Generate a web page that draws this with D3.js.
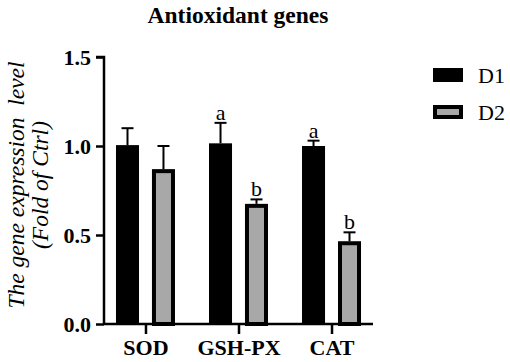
<!DOCTYPE html>
<html>
<head>
<meta charset="utf-8">
<script src="https://cdn.jsdelivr.net/npm/d3@7"></script>
<style>
  body { margin: 0; background: #fff; }
  svg { display: block; }
  svg text { font-family: "Liberation Serif", "Times New Roman", Times, serif !important; fill: #000; }
</style>
</head>
<body>
<div id="chart"></div>
<script>
// 数据
const genes = ['SOD', 'GSH-PX', 'CAT'];
const groups = ['D1', 'D2'];
const d1Mean = [1.005, 1.015, 1.0];
const d1Err = [0.095, 0.115, 0.03];
const d2Mean = [0.87, 0.675, 0.465];
const d2Err = [0.13, 0.025, 0.05];
const d1Sig = ['', 'a', 'a'];
const d2Sig = ['', 'b', 'b'];
const yTicks = [0, 0.5, 1.0, 1.5];

const w = 510, h = 362;
const x0 = 104, x1 = 373, yBase = 324, yTop = 57;
const FONT = '"Liberation Serif", "Times New Roman", Times, serif';

const svg = d3.select('#chart').append('svg').attr('width', w).attr('height', h);

const x = d3.scalePoint().domain(genes).range([x0, x1]).padding(0.446);
const xs = d3.scaleBand().domain(groups).range([-29.5, 29.5]).paddingInner(0.36);
const y = d3.scaleLinear().domain([0, 1.5]).range([yBase, yTop]);

const rows = genes.flatMap((g, i) => [
  { gene: g, grp: 'D1', v: d1Mean[i], e: d1Err[i], sig: d1Sig[i] },
  { gene: g, grp: 'D2', v: d2Mean[i], e: d2Err[i], sig: d2Sig[i] },
]);

// 误差线
const eg = svg.append('g').attr('stroke', '#000').attr('stroke-width', 2);
rows.forEach((d) => {
  const cx = x(d.gene) + xs(d.grp) + xs.bandwidth() / 2;
  eg.append('line').attr('x1', cx).attr('x2', cx).attr('y1', y(d.v)).attr('y2', y(d.v + d.e));
  eg.append('line').attr('x1', cx - 6).attr('x2', cx + 6).attr('y1', y(d.v + d.e)).attr('y2', y(d.v + d.e));
});

// 柱子
svg.append('g')
  .selectAll('rect')
  .data(rows)
  .enter()
  .append('rect')
  .attr('x', (d) => x(d.gene) + xs(d.grp) + (d.grp === 'D2' ? 2 : 0))
  .attr('width', (d) => xs.bandwidth() - (d.grp === 'D2' ? 4 : 0))
  .attr('y', (d) => y(d.v) + (d.grp === 'D2' ? 2 : 0))
  .attr('height', (d) => yBase - y(d.v) - (d.grp === 'D2' ? 2 : 0))
  .attr('fill', (d) => (d.grp === 'D1' ? '#000' : '#a8a8a8'))
  .attr('stroke', (d) => (d.grp === 'D2' ? '#000' : 'none'))
  .attr('stroke-width', 4);

// 显著性字母
svg.append('g')
  .selectAll('text')
  .data(rows.filter((d) => d.sig))
  .enter()
  .append('text')
  .attr('x', (d) => x(d.gene) + xs(d.grp) + xs.bandwidth() / 2)
  .attr('y', (d) => y(d.v + d.e) - 3)
  .attr('text-anchor', 'middle')
  .style('font-size', '22px')
  .text((d) => d.sig);

// 坐标轴
const yAxis = svg.append('g')
  .attr('transform', `translate(${x0},0)`)
  .call(d3.axisLeft(y).tickValues(yTicks).tickFormat(d3.format('.1f')).tickSize(8).tickPadding(5));
yAxis.attr('font-family', FONT);
yAxis.select('.domain').attr('d', `M-8,${yTop}H0V${yBase}`);
yAxis.selectAll('path, line').attr('stroke', '#000').attr('stroke-width', 2.5);
yAxis.selectAll('text').style('font-size', '22px').style('font-weight', 'bold').attr('dy', '0.34em');

const xAxis = svg.append('g')
  .attr('transform', `translate(0,${yBase})`)
  .call(d3.axisBottom(x).tickSize(10).tickPadding(5));
xAxis.attr('font-family', FONT);
xAxis.select('.domain').attr('d', `M${x0},0H${x1}`);
xAxis.selectAll('path, line').attr('stroke', '#000').attr('stroke-width', 2.5);
xAxis.selectAll('text').style('font-size', '22px').style('font-weight', 'bold');

// 标题
svg.append('text')
  .attr('x', 238).attr('y', 23)
  .attr('text-anchor', 'middle')
  .style('font-size', '23.5px').style('font-weight', 'bold')
  .text('Antioxidant genes');

// Y轴标题
const yl = svg.append('text')
  .attr('transform', 'translate(0,185) rotate(-90)')
  .attr('text-anchor', 'middle')
  .style('font-size', '23.5px').style('font-style', 'italic');
yl.append('tspan').attr('x', 0).attr('y', 24).text('The gene expression\u00a0 level');
yl.append('tspan').attr('x', 0).attr('y', 48).text('(Fold of Ctrl)');

// 图例
const lg = svg.append('g');
groups.forEach((g, i) => {
  const yy = 68 + i * 37;
  lg.append('rect')
    .attr('x', g === 'D2' ? 435 : 433).attr('y', g === 'D2' ? yy + 2 : yy)
    .attr('width', g === 'D2' ? 26 : 30).attr('height', g === 'D2' ? 10 : 14)
    .attr('fill', g === 'D1' ? '#000' : '#a8a8a8')
    .attr('stroke', g === 'D2' ? '#000' : 'none')
    .attr('stroke-width', 4);
  lg.append('text')
    .attr('x', 478).attr('y', yy + 7).attr('dy', '0.35em')
    .style('font-size', '22px')
    .text(g);
});
</script>
</body>
</html>
